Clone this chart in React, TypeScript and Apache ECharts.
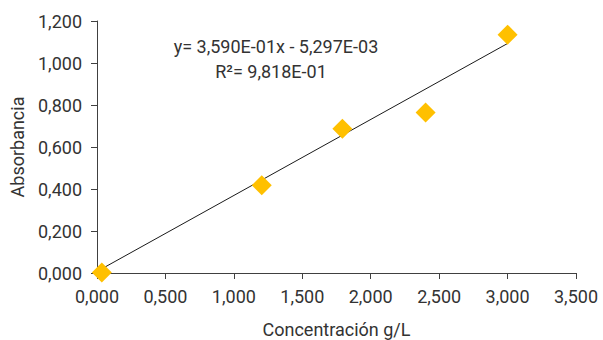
import React, { useEffect, useRef } from "react";
import * as echarts from "echarts";

const concentration = [0.035, 1.204, 1.793, 2.401, 3.0];
const absorbance = [0.002, 0.418, 0.687, 0.764, 1.135];
const trendX = [0.035, 3.0];
const trendY = [0.02, 1.093];
const equationText = "y= 3,590E-01x - 5,297E-03";
const r2Text = "R²= 9,818E-01";
const xTitle = "Concentración g/L";
const yTitle = "Absorbancia";

const fmt = (v: number) => v.toFixed(3).replace(".", ",");

export default function App() {
  const ref = useRef<HTMLDivElement>(null);
  useEffect(() => {
    if (!ref.current) return;
    const chart = echarts.init(ref.current, null, { renderer: "svg" });
    const font = "Roboto, 'Noto Sans', sans-serif";
    const textColor = "#333333";
    const axisLine = { show: true, lineStyle: { color: "#404040", width: 1 } };
    chart.setOption({
      animation: false,
      textStyle: { fontFamily: font },
      grid: { left: 97, right: 27, top: 21, bottom: 67, containLabel: false, outerBoundsMode: "none" },
      xAxis: {
        type: "value",
        min: 0,
        max: 3.5,
        interval: 0.5,
        name: xTitle,
        nameLocation: "middle",
        nameGap: 47,
        nameTextStyle: { fontSize: 18, color: textColor, fontFamily: font, lineHeight: 18 },
        axisLine,
        axisTick: { show: true, inside: false, length: 6, lineStyle: { color: "#404040" } },
        splitLine: { show: false },
        axisLabel: { fontSize: 18, color: textColor, margin: 14, formatter: fmt, fontFamily: font, showMaxLabel: true, showMinLabel: true },
      },
      yAxis: {
        type: "value",
        min: 0,
        max: 1.2,
        interval: 0.2,
        name: yTitle,
        nameLocation: "middle",
        nameGap: 71,
        nameRotate: 90,
        nameTextStyle: { fontSize: 18, color: textColor, fontFamily: font },
        axisLine,
        axisTick: { show: true, inside: false, length: 6, lineStyle: { color: "#404040" } },
        splitLine: { show: false },
        axisLabel: { fontSize: 18, color: textColor, margin: 15, formatter: fmt, fontFamily: font },
      },
      series: [
        {
          type: "line",
          data: trendX.map((x, i) => [x, trendY[i]]),
          symbol: "none",
          lineStyle: { color: "#1a1a1a", width: 1 },
          z: 2,
        },
        {
          type: "scatter",
          data: concentration.map((x, i) => [x, absorbance[i]]),
          symbol: "diamond",
          symbolSize: 20,
          itemStyle: { color: "#FFC000", opacity: 1 },
          z: 3,
        },
      ],
      graphic: [
        {
          type: "text",
          x: 276,
          y: 46,
          style: {
            text: equationText,
            font: `18px ${font}`,
            fill: textColor,
            textAlign: "center",
            textVerticalAlign: "middle",
          },
        },
        {
          type: "text",
          x: 271,
          y: 71,
          style: {
            text: r2Text,
            font: `18px ${font}`,
            fill: textColor,
            textAlign: "center",
            textVerticalAlign: "middle",
          },
        },
      ],
    });
    return () => chart.dispose();
  }, []);
  return <div ref={ref} style={{ width: 603, height: 340, position: "absolute", left: 0, top: 0 }} />;
}
